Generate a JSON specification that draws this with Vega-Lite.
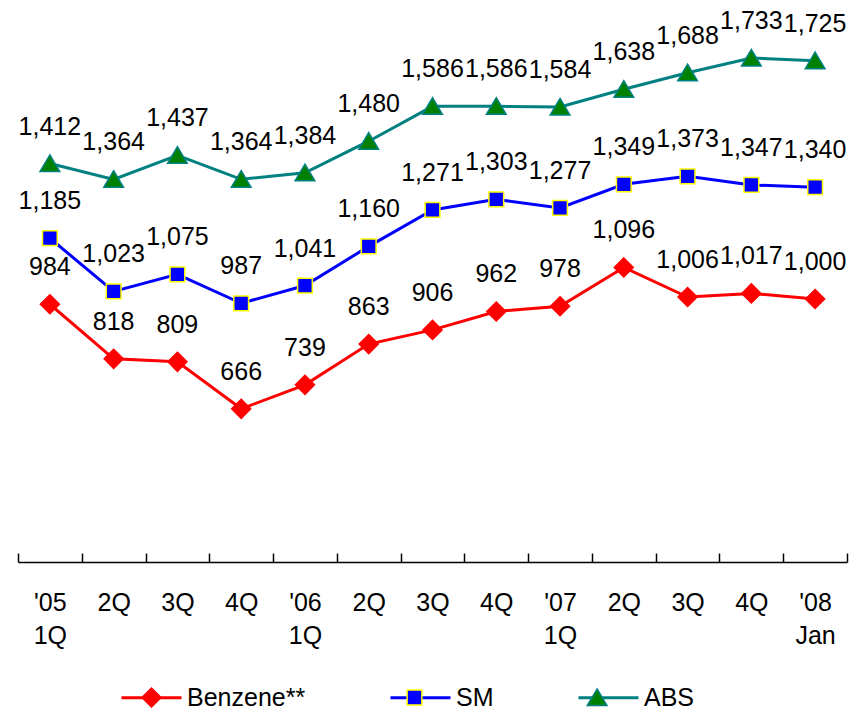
{
  "$schema": "https://vega.github.io/schema/vega-lite/v6.json",
  "width": 829,
  "height": 526,
  "autosize": {"type": "none"},
  "padding": {"left": 18, "top": 36, "right": 14, "bottom": 152},
  "background": "white",
  "config": {
    "view": {"stroke": null},
    "font": "Liberation Sans",
    "legend": {"orient": "none", "legendY": 630, "direction": "horizontal", "title": null, "padding": 0, "labelOffset": 4, "columnPadding": 78, "labelFont": "Liberation Sans", "labelFontSize": 25, "labelColor": "black"}
  },
  "data": {"values": [
    {"series": "Benzene**", "period": "'05 1Q", "value": 984},
    {"series": "Benzene**", "period": "'05 2Q", "value": 818},
    {"series": "Benzene**", "period": "'05 3Q", "value": 809},
    {"series": "Benzene**", "period": "'05 4Q", "value": 666},
    {"series": "Benzene**", "period": "'06 1Q", "value": 739},
    {"series": "Benzene**", "period": "'06 2Q", "value": 863},
    {"series": "Benzene**", "period": "'06 3Q", "value": 906},
    {"series": "Benzene**", "period": "'06 4Q", "value": 962},
    {"series": "Benzene**", "period": "'07 1Q", "value": 978},
    {"series": "Benzene**", "period": "'07 2Q", "value": 1096},
    {"series": "Benzene**", "period": "'07 3Q", "value": 1006},
    {"series": "Benzene**", "period": "'07 4Q", "value": 1017},
    {"series": "Benzene**", "period": "'08 Jan", "value": 1000},
    {"series": "SM", "period": "'05 1Q", "value": 1185},
    {"series": "SM", "period": "'05 2Q", "value": 1023},
    {"series": "SM", "period": "'05 3Q", "value": 1075},
    {"series": "SM", "period": "'05 4Q", "value": 987},
    {"series": "SM", "period": "'06 1Q", "value": 1041},
    {"series": "SM", "period": "'06 2Q", "value": 1160},
    {"series": "SM", "period": "'06 3Q", "value": 1271},
    {"series": "SM", "period": "'06 4Q", "value": 1303},
    {"series": "SM", "period": "'07 1Q", "value": 1277},
    {"series": "SM", "period": "'07 2Q", "value": 1349},
    {"series": "SM", "period": "'07 3Q", "value": 1373},
    {"series": "SM", "period": "'07 4Q", "value": 1347},
    {"series": "SM", "period": "'08 Jan", "value": 1340},
    {"series": "ABS", "period": "'05 1Q", "value": 1412},
    {"series": "ABS", "period": "'05 2Q", "value": 1364},
    {"series": "ABS", "period": "'05 3Q", "value": 1437},
    {"series": "ABS", "period": "'05 4Q", "value": 1364},
    {"series": "ABS", "period": "'06 1Q", "value": 1384},
    {"series": "ABS", "period": "'06 2Q", "value": 1480},
    {"series": "ABS", "period": "'06 3Q", "value": 1586},
    {"series": "ABS", "period": "'06 4Q", "value": 1586},
    {"series": "ABS", "period": "'07 1Q", "value": 1584},
    {"series": "ABS", "period": "'07 2Q", "value": 1638},
    {"series": "ABS", "period": "'07 3Q", "value": 1688},
    {"series": "ABS", "period": "'07 4Q", "value": 1733},
    {"series": "ABS", "period": "'08 Jan", "value": 1725}
  ]},
  "encoding": {
    "x": {
      "field": "period", "type": "nominal", "sort": null,
      "scale": {"type": "band", "paddingInner": 0, "paddingOuter": 0},
      "axis": {
        "title": null, "grid": false, "labelAngle": 0,
        "domainColor": "black", "domainWidth": 1.5,
        "tickColor": "black", "tickWidth": 1.5, "tickSize": -9, "tickBand": "extent",
        "labelFont": "Liberation Sans", "labelFontSize": 25, "labelColor": "black",
        "labelLineHeight": 33, "labelBaseline": "top", "labelPadding": 37,
        "labelExpr": "indexof(datum.label, '1Q') >= 0 || indexof(datum.label, 'Jan') >= 0 ? split(datum.label, ' ') : split(datum.label, ' ')[1]"
      }
    },
    "y": {"field": "value", "type": "quantitative", "scale": {"domain": [200, 1800], "zero": false, "nice": false}, "axis": null}
  },
  "layer": [
    {
      "mark": {"type": "line", "strokeWidth": 3},
      "encoding": {
        "color": {
          "field": "series", "type": "nominal",
          "scale": {"domain": ["Benzene**", "SM", "ABS"], "range": ["#ff0000", "#0000ff", "#008080"]},
          "legend": {"legendX": 102, "symbolType": "stroke", "symbolSize": 3600, "symbolStrokeWidth": 3}
        }
      }
    },
    {
      "transform": [{"filter": "datum.series == 'Benzene**'"}],
      "mark": {"type": "point", "filled": true, "size": 3782, "strokeWidth": 1.5, "opacity": 1},
      "encoding": {
        "fill": {"field": "series", "type": "nominal", "scale": {"domain": ["Benzene**"], "range": ["#ff0000"]},
          "legend": {"legendX": 102, "symbolSize": 3782, "symbolStrokeWidth": 1.5, "labelExpr": "''"}},
        "stroke": {"field": "series", "type": "nominal", "scale": {"domain": ["Benzene**"], "range": ["#ff0000"]},
          "legend": {"legendX": 102, "symbolSize": 3782, "symbolStrokeWidth": 1.5, "labelExpr": "''"}},
        "shape": {"field": "series", "type": "nominal", "scale": {"domain": ["Benzene**"], "range": ["M0,-0.31L0.31,0L0,0.31L-0.31,0Z"]},
          "legend": {"legendX": 102, "symbolSize": 3782, "symbolStrokeWidth": 1.5, "labelExpr": "''"}}
      }
    },
    {
      "transform": [{"filter": "datum.series == 'SM'"}],
      "mark": {"type": "point", "filled": true, "size": 3782, "strokeWidth": 1.5, "opacity": 1},
      "encoding": {
        "fill": {"field": "series", "type": "nominal", "scale": {"domain": ["SM"], "range": ["#0000ff"]},
          "legend": {"legendX": 365, "symbolSize": 3782, "symbolStrokeWidth": 1.5, "labelExpr": "''"}},
        "stroke": {"field": "series", "type": "nominal", "scale": {"domain": ["SM"], "range": ["#ffff00"]},
          "legend": {"legendX": 365, "symbolSize": 3782, "symbolStrokeWidth": 1.5, "labelExpr": "''"}},
        "shape": {"field": "series", "type": "nominal", "scale": {"domain": ["SM"], "range": ["M-0.24,-0.24H0.24V0.24H-0.24Z"]},
          "legend": {"legendX": 365, "symbolSize": 3782, "symbolStrokeWidth": 1.5, "labelExpr": "''"}}
      }
    },
    {
      "transform": [{"filter": "datum.series == 'ABS'"}],
      "mark": {"type": "point", "filled": true, "size": 3782, "strokeWidth": 1.5, "opacity": 1},
      "encoding": {
        "fill": {"field": "series", "type": "nominal", "scale": {"domain": ["ABS"], "range": ["#008000"]},
          "legend": {"legendX": 547.6, "symbolSize": 3782, "symbolStrokeWidth": 1.5, "labelExpr": "''"}},
        "stroke": {"field": "series", "type": "nominal", "scale": {"domain": ["ABS"], "range": ["#008080"]},
          "legend": {"legendX": 547.6, "symbolSize": 3782, "symbolStrokeWidth": 1.5, "labelExpr": "''"}},
        "shape": {"field": "series", "type": "nominal", "scale": {"domain": ["ABS"], "range": ["M0,-0.28L0.32,0.26L-0.32,0.26Z"]},
          "legend": {"legendX": 547.6, "symbolSize": 3782, "symbolStrokeWidth": 1.5, "labelExpr": "''"}}
      }
    },
    {
      "mark": {"type": "text", "dy": -37, "fontSize": 25, "font": "Liberation Sans", "baseline": "middle", "align": "center", "fill": "black"},
      "encoding": {"text": {"field": "value", "type": "quantitative", "format": ","}}
    }
  ],
  "resolve": {
    "scale": {"fill": "independent", "stroke": "independent", "shape": "independent"},
    "legend": {"color": "independent", "fill": "independent", "stroke": "independent", "shape": "independent"}
  }
}
